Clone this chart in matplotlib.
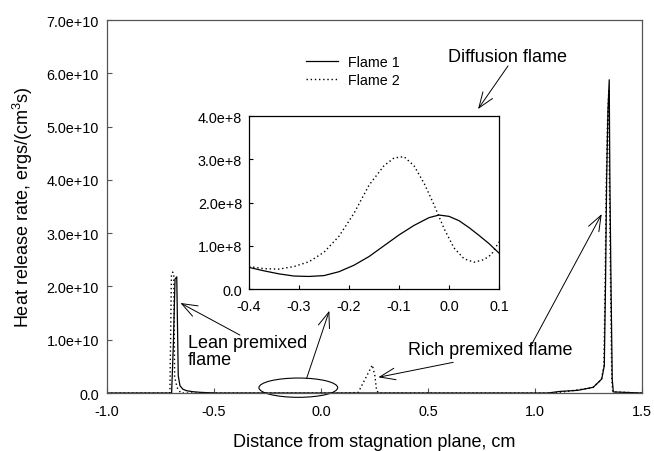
import matplotlib
matplotlib.use("Agg")
import matplotlib.pyplot as plt
from matplotlib.patches import Ellipse
from matplotlib.ticker import FuncFormatter

plt.rcParams['font.family'] = 'Liberation Sans'
plt.rcParams['mathtext.fontset'] = 'custom'
plt.rcParams['mathtext.rm'] = 'Liberation Sans'
plt.rcParams['mathtext.it'] = 'Liberation Sans:italic'
plt.rcParams['axes.unicode_minus'] = False

# %% data
# main plot: x in cm, heat release in units of 1e10 ergs/(cm^3 s)
x_flame1 = [-1.0, -0.698, -0.690, -0.682, -0.674, -0.667, -0.659, -0.645, -0.628,
            -0.600, -0.565, -0.530, -0.487, 1.06, 1.117, 1.20, 1.272, 1.312, 1.324,
            1.330, 1.335, 1.341, 1.347, 1.350, 1.355, 1.361, 1.366, 1.5]
q_flame1 = [0, 0, 0.9, 2.14, 2.18, 0.325, 0.137, 0.07, 0.043,
            0.025, 0.013, 0.006, 0, 0, 0.03, 0.05, 0.107, 0.263, 0.512,
            2.14, 4.02, 5.3, 5.88, 4.02, 2.14, 0.26, 0.02, 0]
x_flame2 = [-1.0, -0.706, -0.699, -0.693, -0.688, -0.684, -0.672, -0.655, 0.10, 0.174,
            0.206, 0.24, 0.252, 0.26, 0.272, 1.08, 1.15, 1.27, 1.31, 1.322, 1.328,
            1.333, 1.339, 1.345, 1.348, 1.353, 1.359, 1.364, 1.5]
q_flame2 = [0, 0, 2.2, 2.27, 2.2, 0.3, 0.1, 0, 0, 0.01,
            0.26, 0.525, 0.32, 0.04, 0, 0, 0.03, 0.1, 0.25, 0.5, 2.1,
            3.9, 5.1, 5.67, 3.9, 2.1, 0.25, 0.02, 0]

# inset: zoom near stagnation plane, heat release in units of 1e8
xi_flame1 = [-0.40, -0.37, -0.34, -0.31, -0.28, -0.25, -0.22, -0.19, -0.16, -0.13,
             -0.10, -0.07, -0.04, -0.02, 0.00, 0.02, 0.04, 0.06, 0.08, 0.10]
qi_flame1 = [0.50, 0.42, 0.35, 0.30, 0.29, 0.31, 0.40, 0.55, 0.75, 1.00,
             1.25, 1.47, 1.65, 1.71, 1.68, 1.58, 1.42, 1.24, 1.05, 0.83]
xi_flame2 = [-0.40, -0.37, -0.34, -0.31, -0.28, -0.25, -0.22, -0.19, -0.16, -0.13,
             -0.11, -0.09, -0.07, -0.05, -0.03, -0.01, 0.01, 0.03, 0.05, 0.07, 0.085, 0.10]
qi_flame2 = [0.52, 0.47, 0.46, 0.52, 0.63, 0.85, 1.22, 1.75, 2.40, 2.85,
             3.03, 3.06, 2.85, 2.45, 1.95, 1.40, 0.95, 0.70, 0.62, 0.68, 0.80, 1.09]

labels = ["Flame 1", "Flame 2"]
main_xticks = [-1.0, -0.5, 0.0, 0.5, 1.0, 1.5]
main_yticks = [0, 1e10, 2e10, 3e10, 4e10, 5e10, 6e10, 7e10]
inset_xticks = [-0.4, -0.3, -0.2, -0.1, 0.0, 0.1]
inset_yticks = [0, 1e8, 2e8, 3e8, 4e8]

dotted = (0, (1, 2))


def sci_fmt(v, p):
    if v == 0:
        return "0.0"
    return ("%.1e" % v).replace("e+0", "e+")


fig = plt.figure(figsize=(6.54, 4.52), dpi=100)
ax = fig.add_axes([0.1636, 0.1283, 0.818, 0.825])

ax.plot(x_flame1, [q * 1e10 for q in q_flame1], color="black", lw=0.9, label=labels[0])
ax.plot(x_flame2, [q * 1e10 for q in q_flame2], color="black", lw=1.0, ls=dotted, label=labels[1])
ax.set_xlim(-1.0, 1.5)
ax.set_ylim(0, 7e10)
ax.set_xticks(main_xticks)
ax.set_yticks(main_yticks)
ax.xaxis.set_major_formatter(FuncFormatter(lambda v, p: "%.1f" % v))
ax.yaxis.set_major_formatter(FuncFormatter(sci_fmt))
ax.tick_params(axis="x", direction="in", length=3.5, width=0.8, labelsize=10.4, pad=7.9, color="#555555")
ax.tick_params(axis="y", direction="in", length=3.5, width=0.8, labelsize=10.4, pad=5.8, color="#555555")
for s in ax.spines.values():
    s.set_color("#555555")
    s.set_linewidth(0.9)
ax.set_xlabel("Distance from stagnation plane, cm", fontsize=13)
ax.set_ylabel("Heat release rate, ergs/(cm$^3$s)", fontsize=13)
ax.xaxis.set_label_coords(0.5, -0.107)
ax.yaxis.set_label_coords(-0.135, 0.5)

# annotations
arrow = dict(arrowstyle="->, head_length=0.8, head_width=0.3", lw=0.7, color="black",
             mutation_scale=14, shrinkA=0, shrinkB=0)
ax.text(0.871, 6.32e10, "Diffusion flame", fontsize=13, ha="center", va="center")
ax.annotate("", xy=(0.734, 5.33e10), xytext=(0.874, 6.14e10), arrowprops=arrow)
ax.text(-0.621, 0.79e10, "Lean premixed\nflame", fontsize=13, ha="left", va="center", linespacing=1.05)
ax.annotate("", xy=(-0.657, 1.69e10), xytext=(-0.379, 1.088e10), arrowprops=arrow)
ax.add_patch(Ellipse((-0.106, 0.1e10), 0.368, 0.362e10, fill=False, lw=0.8, color="black", clip_on=False))
ax.annotate("", xy=(0.039, 1.544e10), xytext=(-0.067, 0.276e10), arrowprops=arrow)
ax.text(0.408, 0.813e10, "Rich premixed flame", fontsize=13, ha="left", va="center")
ax.annotate("", xy=(0.268, 0.295e10), xytext=(0.618, 0.576e10), arrowprops=arrow)
ax.annotate("", xy=(1.312, 3.359e10), xytext=(0.977, 0.858e10), arrowprops=arrow)

ax.legend(loc="upper left", bbox_to_anchor=(306 / 654, 1 - 56 / 452), bbox_transform=fig.transFigure,
          frameon=False, borderpad=0, borderaxespad=0, handlelength=2.25, handletextpad=0.7,
          labelspacing=0.3, fontsize=10.3)

# inset
axi = fig.add_axes([0.3807, 0.3584, 0.3823, 0.3827])
axi.plot(xi_flame1, [q * 1e8 for q in qi_flame1], color="black", lw=0.9)
axi.plot(xi_flame2, [q * 1e8 for q in qi_flame2], color="black", lw=1.0, ls=dotted)
axi.set_xlim(-0.4, 0.1)
axi.set_ylim(0, 4e8)
axi.set_xticks(inset_xticks)
axi.set_yticks(inset_yticks)
axi.xaxis.set_major_formatter(FuncFormatter(lambda v, p: "%.1f" % v))
axi.yaxis.set_major_formatter(FuncFormatter(sci_fmt))
axi.tick_params(axis="x", direction="in", length=3, width=0.8, labelsize=10.4, pad=7.2)
axi.tick_params(axis="y", direction="in", length=3, width=0.8, labelsize=10.4, pad=5.0)
for s in axi.spines.values():
    s.set_linewidth(0.9)

fig.savefig("out.png", dpi=100)
